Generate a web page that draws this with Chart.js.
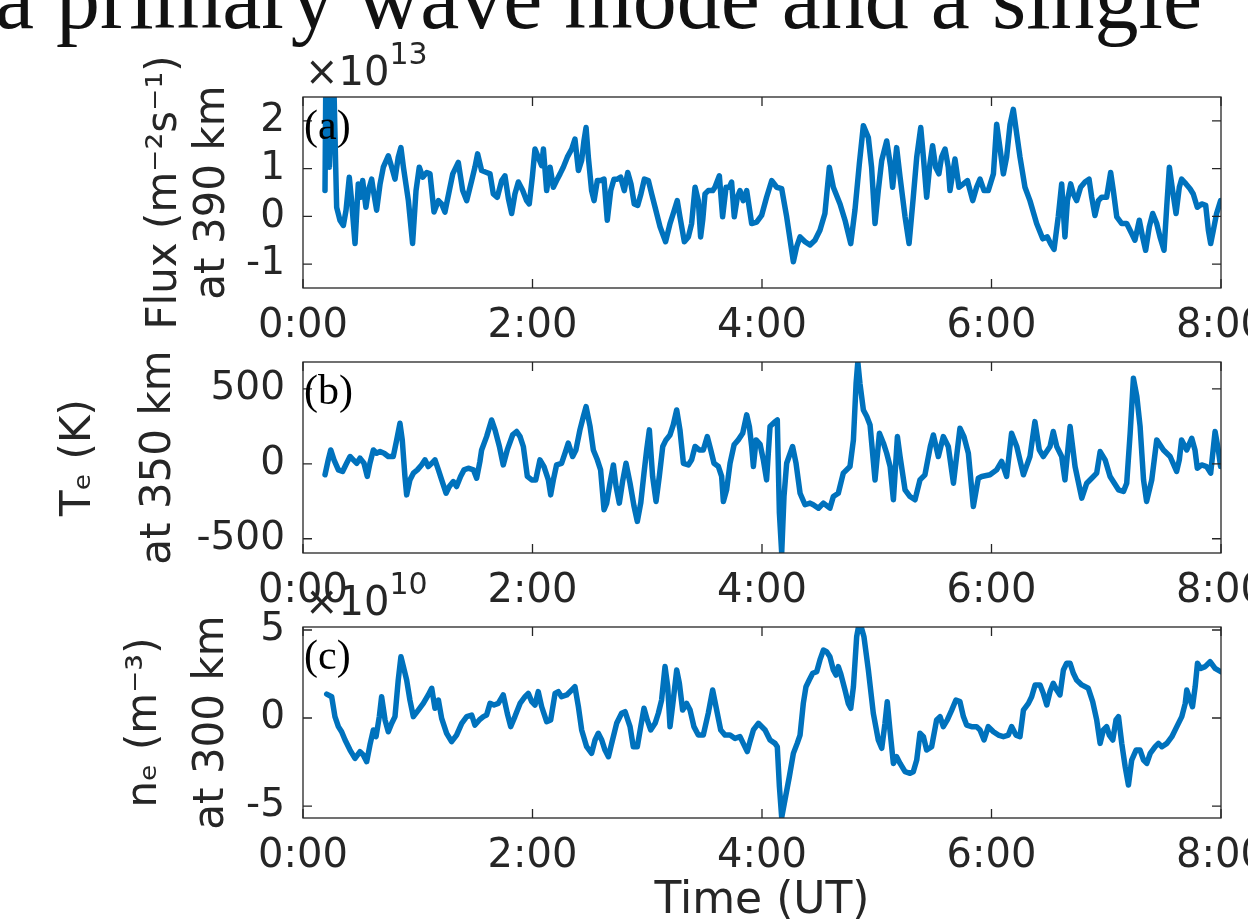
<!DOCTYPE html>
<html>
<head>
<meta charset="utf-8">
<script src="https://cdn.jsdelivr.net/npm/chart.js@4.4.1/dist/chart.umd.min.js"></script>
<style>
  html, body { margin: 0; padding: 0; background: #fff; }
  #page { position: relative; width: 1248px; height: 923px; overflow: hidden; background: #fff; }
  #page canvas { position: absolute; left: 0; top: 0; }
  #caption { position: absolute; left: -5px; top: -46px; font: 88px "Liberation Serif", serif; line-height: 90px; color: #111; white-space: nowrap; }
</style>
</head>
<body>
<div id="page">
  <div id="caption">a primary wave mode and a single</div>
  <canvas id="chartA" width="1248" height="923"></canvas>
  <canvas id="chartB" width="1248" height="923"></canvas>
  <canvas id="chartC" width="1248" height="923"></canvas>
</div>
<script>
// tick positions (time in minutes after 0:00 UT)
var timeTicks = [0, 120, 240, 360, 480];
var fluxTicks = [-1, 0, 1, 2];
var teTicks = [-500, 0, 500];
var neTicks = [-5, 0, 5];

// (a) flux at 390 km, units of 1e13 m-2 s-1
var fluxTime = [11.5,12.0,13.8,15.9,17.1,17.6,19.3,21.1,22.5,24.2,25.4,27.2,28.9,30.2,31.2,32.9,34.2,35.9,36.8,38.5,40.3,42.0,44.6,46.4,48.1,49.8,51.2,52.5,55.1,57.3,59.1,60.8,62.6,64.7,66.4,68.5,70.8,72.5,74.2,76.5,78.3,81.2,83.5,85.6,88.2,89.9,91.3,93.4,96.0,97.8,99.5,101.6,103.9,105.6,107.4,109.1,110.8,112.6,114.9,116.9,118.3,119.9,121.3,123.0,124.8,125.7,127.4,129.2,130.9,132.6,134.4,136.1,138.2,140.5,142.2,144.0,145.7,146.9,148.0,149.2,150.9,152.2,153.9,155.6,157.4,159.1,160.9,162.6,164.4,166.1,168.0,169.8,171.5,173.2,175.0,176.7,178.5,180.6,182.3,184.1,186.7,189.6,191.9,193.6,195.7,197.1,199.4,201.5,203.2,205.0,206.7,207.9,209.0,210.2,211.9,214.2,215.4,217.7,219.4,221.2,222.9,224.1,225.5,227.1,228.5,230.2,232.0,234.6,237.2,239.8,242.4,245.1,247.7,250.3,252.9,256.4,258.1,259.9,262.5,265.1,267.7,270.3,272.9,275.2,277.3,280.8,283.4,286.4,288.6,290.9,293.0,295.6,297.3,299.1,300.8,302.6,305.2,307.3,308.3,310.4,312.2,314.8,316.9,319.1,320.9,323.0,324.4,326.1,327.8,329.2,330.8,332.5,333.9,335.7,337.4,338.3,340.9,343.0,345.3,347.4,350.2,352.2,354.0,356.1,358.3,361.0,362.7,364.4,366.2,367.9,369.7,371.4,373.2,374.9,377.5,380.1,383.6,386.8,389.2,390.9,392.7,394.9,396.7,398.4,399.7,401.4,402.8,404.5,406.6,408.9,411.0,412.4,414.1,415.9,417.6,420.2,422.3,423.7,425.5,428.1,430.7,433.3,435.0,437.3,439.0,440.6,442.5,444.3,446.4,448.1,450.2,451.6,453.0,454.7,456.5,458.2,459.4,461.7,463.8,465.5,467.6,469.9,472.0,473.4,474.6,476.0,477.7,479.8];
var fluxVal = [0.54,3.2,1.03,3.2,1.03,0.19,-0.08,-0.19,0.13,0.82,0.33,-0.57,0.68,0.40,0.75,0.19,0.54,0.78,0.54,0.13,0.68,1.03,1.27,1.03,0.78,1.24,1.44,1.03,0.33,-0.57,0.54,1.03,0.82,0.92,0.89,0.09,0.33,0.26,0.09,0.54,0.89,1.13,0.54,0.33,0.75,1.03,1.31,0.96,0.92,0.89,0.47,0.40,0.75,0.85,0.37,0.06,0.47,0.72,0.54,0.33,0.26,0.82,1.41,1.24,1.06,1.41,0.54,1.03,0.61,0.75,0.89,1.03,1.24,1.41,1.62,0.96,1.17,1.58,1.86,1.24,0.54,0.33,0.75,0.75,0.78,-0.08,0.54,0.78,0.78,0.82,0.54,0.92,0.68,0.26,0.23,0.47,0.78,0.75,0.47,0.19,-0.22,-0.53,-0.15,0.06,0.33,-0.01,-0.53,-0.43,-0.15,0.61,0.33,-0.43,-0.08,0.47,0.54,0.54,0.61,0.85,-0.01,0.61,0.61,0.72,-0.01,0.40,0.54,0.33,0.54,-0.15,-0.12,0.02,0.40,0.75,0.61,0.58,-0.01,-0.95,-0.64,-0.43,-0.53,-0.60,-0.50,-0.29,0.06,1.03,0.61,0.26,-0.08,-0.57,0.13,1.10,1.90,1.65,1.03,-0.15,0.54,1.17,1.58,1.03,0.61,1.44,0.82,-0.01,-0.57,0.40,1.24,1.86,1.24,0.40,1.10,1.48,1.03,0.89,1.24,1.41,1.03,0.54,1.20,0.61,0.68,0.75,0.33,0.61,0.78,0.54,0.54,0.89,1.93,1.44,0.89,1.24,1.93,2.24,1.72,1.24,0.61,0.33,-0.15,-0.47,-0.43,-0.57,-0.69,-0.01,0.68,-0.43,0.33,0.68,0.47,0.33,0.61,0.72,0.78,0.40,0.02,0.33,0.40,0.40,0.92,0.54,-0.01,-0.15,-0.15,-0.36,-0.50,-0.08,-0.43,-0.71,-0.22,0.06,-0.15,-0.43,-0.71,0.19,1.03,0.54,0.06,0.61,0.78,0.68,0.58,0.47,0.19,0.26,0.23,-0.29,-0.57,-0.29,0.06,0.33];

// (b) electron temperature at 350 km, K
var teTime = [11.5,13.2,14.5,16.2,18.5,20.7,22.8,24.6,26.3,28.1,29.8,31.9,33.6,35.0,36.8,38.5,40.3,42.4,44.6,47.2,49.0,50.7,51.9,53.3,54.2,55.9,57.7,59.8,62.0,63.8,65.5,67.3,69.0,70.8,72.5,74.8,76.5,78.6,80.3,82.4,84.2,86.4,89.1,90.8,92.5,93.4,96.0,98.6,100.4,102.7,104.7,106.8,109.6,111.7,113.5,115.2,117.3,119.6,121.7,123.9,126.0,128.3,129.5,130.9,132.6,135.2,137.0,138.7,141.0,142.7,144.8,146.6,148.0,150.1,151.8,153.9,155.6,157.4,158.8,160.5,162.3,163.7,165.4,167.1,168.9,171.0,173.1,174.8,176.6,178.3,179.7,181.1,182.8,184.6,186.3,188.1,189.8,191.9,193.6,195.4,197.1,198.9,201.5,203.2,205.0,207.2,209.3,211.4,213.2,214.9,217.2,218.9,219.8,221.5,223.3,225.4,227.6,229.9,232.0,233.4,234.6,235.5,236.9,239.0,240.7,242.4,244.2,246.8,248.0,249.1,250.3,251.5,252.9,256.0,257.8,259.9,262.5,265.1,266.8,269.5,272.1,275.5,277.3,279.9,282.5,286.0,287.8,289.2,290.1,291.2,293.0,294.8,296.5,299.1,301.4,303.5,305.2,307.0,308.7,310.8,312.2,314.8,317.4,320.0,322.6,325.2,328.0,329.6,332.2,334.8,337.4,340.1,343.5,345.6,347.9,350.5,353.1,354.9,359.2,362.7,365.3,367.9,370.5,373.2,376.7,380.1,382.7,385.0,387.1,390.6,392.3,394.1,396.7,398.4,401.1,403.7,407.2,409.8,412.4,415.0,416.8,419.4,422.0,426.4,429.0,430.7,432.5,434.2,436.0,437.7,439.5,441.1,443.8,446.4,449.9,453.4,456.8,458.2,459.4,462.1,464.7,466.4,467.6,469.9,472.5,474.6,476.9,478.6,479.8];
var teVal = [-73,27,93,27,-40,-51,4,49,27,4,38,4,-84,4,93,71,82,71,49,49,160,271,160,-84,-207,-107,-62,-40,-7,27,-18,4,27,-40,-107,-196,-151,-118,-151,-84,-40,-29,-40,-96,16,93,182,293,227,116,-7,93,193,216,182,116,-84,-107,-107,27,-18,-107,-207,-107,-7,4,71,138,49,93,227,316,382,249,93,27,-40,-307,-262,-129,-7,-151,-262,-118,4,-129,-284,-384,-262,-62,93,227,-84,-251,-84,116,160,193,260,360,227,4,-7,27,116,93,93,182,93,4,-18,-84,-251,-173,4,127,160,204,327,249,116,-18,160,130,27,-107,249,282,293,-329,-595,-218,4,116,4,-196,-273,-262,-273,-296,-262,-296,-218,-196,-62,-18,160,538,680,538,360,316,260,-107,204,138,71,-18,-240,182,49,-173,-218,-240,-107,-73,116,193,49,182,116,-129,238,182,71,-284,-96,-84,-73,-40,16,-84,204,116,-73,49,282,93,49,116,216,116,49,-107,249,-18,-229,-129,-96,-62,82,27,-84,-173,-184,-129,204,571,449,249,-107,-251,-107,160,93,49,-51,27,160,93,171,93,-29,-7,-18,-62,216,93,-18];

// (c) electron density at 300 km, units of 1e10 m-3
var neTime = [12.4,15.0,16.7,18.5,20.2,22.0,24.6,27.2,29.8,31.5,33.3,35.0,36.8,38.2,39.9,41.1,42.9,44.6,46.4,48.1,49.8,51.2,52.5,54.2,55.9,57.7,60.3,62.9,65.5,67.3,69.0,70.8,72.5,75.1,77.7,80.3,83.0,85.6,88.2,89.9,92.2,94.3,96.0,97.8,99.9,102.1,104.7,106.8,108.6,110.8,113.5,116.1,117.8,119.6,121.3,123.0,124.8,127.4,129.5,131.8,133.5,135.2,137.9,140.5,142.2,144.0,145.7,148.3,150.9,152.7,154.4,156.2,157.9,159.7,161.4,164.0,166.6,168.4,171.0,172.7,174.8,176.6,178.3,180.0,181.8,184.1,185.8,187.5,189.3,190.7,191.9,193.6,195.4,196.8,198.5,200.6,202.4,204.4,206.7,209.3,211.9,214.2,216.3,218.4,220.7,223.3,225.9,228.5,230.2,232.3,233.7,235.5,238.1,241.6,244.2,246.8,248.0,249.1,250.3,252.0,254.3,256.4,258.4,259.9,261.6,263.0,264.7,266.5,268.6,270.3,272.1,273.8,275.5,277.3,278.7,279.9,281.1,283.4,285.1,286.4,287.8,289.5,290.4,292.1,293.3,295.6,298.2,300.8,302.6,304.3,305.5,306.9,308.7,310.4,312.2,314.8,317.4,319.1,320.9,322.6,324.4,326.1,328.7,331.3,333.1,334.8,336.9,339.2,341.4,343.5,345.3,347.0,349.6,352.2,354.0,356.1,358.3,361.0,363.6,366.2,368.8,370.5,372.8,374.9,376.7,379.3,381.0,382.8,385.4,387.1,388.9,390.6,392.3,394.1,395.8,397.6,399.3,401.1,402.8,404.5,407.2,410.6,412.9,415.0,416.8,418.5,420.2,421.6,423.4,425.1,426.4,428.1,429.9,431.6,433.3,435.6,437.7,439.5,441.2,443.0,445.6,447.3,449.1,451.7,454.3,456.9,459.5,461.3,462.1,463.9,465.1,466.5,467.7,469.4,471.7,474.3,476.9,479.9];
var neVal = [1.36,1.21,0.08,-0.49,-0.78,-1.25,-1.82,-2.29,-1.91,-2.10,-2.48,-1.53,-0.68,-1.06,0.08,1.21,-0.11,-0.78,-0.30,0.08,2.16,3.48,2.92,2.16,1.02,0.08,0.45,0.83,1.31,1.69,0.55,1.02,-0.02,-0.87,-1.34,-0.97,-0.30,0.08,0.17,-0.40,-0.11,0.08,0.17,0.83,0.74,0.83,1.31,0.27,-0.49,0.08,0.83,1.21,1.40,0.93,0.74,1.50,0.64,-0.21,-0.11,1.40,1.50,1.21,1.31,1.59,1.78,0.64,-0.68,-1.63,-2.01,-1.25,-0.87,-1.25,-1.82,-2.20,-1.44,-0.30,0.27,0.36,-0.49,-1.63,-1.63,-0.49,0.55,-0.11,-0.68,-0.30,0.27,1.02,2.92,1.78,-0.49,1.02,2.73,1.97,0.45,0.83,0.45,-0.49,-0.97,-0.97,0.27,1.59,0.45,-0.68,-0.97,-0.97,-1.16,-1.06,-1.44,-1.91,-1.34,-0.68,-0.30,-0.68,-1.25,-1.44,-1.63,-3.90,-5.65,-4.66,-3.33,-2.01,-1.44,-0.97,0.83,1.78,2.16,2.54,2.63,3.30,3.86,3.77,3.48,2.73,2.44,2.92,2.54,1.59,0.83,0.55,1.78,4.62,5.15,5.09,4.62,2.73,0.27,-1.25,-1.72,-0.30,0.93,-0.68,-2.58,-2.20,-2.58,-3.05,-3.14,-3.05,-2.39,-0.87,-1.06,-1.82,-1.63,-0.11,0.08,-0.49,-0.11,0.45,1.02,0.93,0.08,-0.40,-0.49,-0.49,-0.68,-1.25,-0.49,-0.78,-0.97,-1.06,-0.97,-0.49,-0.97,-1.06,0.45,0.83,1.21,1.88,1.88,1.40,0.74,1.50,1.97,1.59,1.31,2.73,3.11,3.11,2.54,2.16,1.88,1.69,0.93,-0.11,-1.44,-0.68,-0.49,-0.97,-1.25,-0.11,0.08,-1.44,-2.77,-3.81,-2.39,-1.82,-1.82,-2.39,-2.58,-2.01,-1.63,-1.44,-1.63,-1.44,-1.06,-0.49,0.08,0.83,1.59,1.02,0.64,1.78,3.11,2.82,2.92,3.20,2.82,2.63];

Chart.defaults.font.family = '"DejaVu Sans", sans-serif';
Chart.defaults.color = '#262626';

function hhmm(v) {
  var h = Math.floor(v / 60);
  var m = v % 60;
  return h + ':' + (m < 10 ? '0' : '') + m;
}

// matlab style box: frame, inward ticks on all sides, panel letter, exponent
var boxPlugin = {
  id: 'panelBox',
  afterDatasetsDraw: function (chart, args, opts) {
    var ctx = chart.ctx;
    var a = chart.chartArea;
    var xs = chart.scales.x, ys = chart.scales.y;
    var tl = 9;
    ctx.save();
    ctx.strokeStyle = '#262626';
    ctx.lineWidth = 1.3;
    ctx.strokeRect(a.left, a.top, a.right - a.left, a.bottom - a.top);
    ctx.beginPath();
    xs.ticks.forEach(function (t) {
      var px = xs.getPixelForValue(t.value);
      ctx.moveTo(px, a.bottom); ctx.lineTo(px, a.bottom - tl);
      ctx.moveTo(px, a.top); ctx.lineTo(px, a.top + tl);
    });
    ys.ticks.forEach(function (t) {
      var py = ys.getPixelForValue(t.value);
      ctx.moveTo(a.left, py); ctx.lineTo(a.left + tl, py);
      ctx.moveTo(a.right, py); ctx.lineTo(a.right - tl, py);
    });
    ctx.stroke();

    ctx.fillStyle = '#000';
    ctx.textBaseline = 'alphabetic';
    ctx.textAlign = 'left';
    ctx.font = '42px "Liberation Serif", serif';
    ctx.fillText(opts.letter, a.left + 1, a.top + 42);

    if (opts.exponent) {
      ctx.fillStyle = '#262626';
      ctx.font = '40px "DejaVu Sans", sans-serif';
      var base = '\u00d710';
      ctx.fillText(base, a.left + 2, a.top - 12);
      var w = ctx.measureText(base).width;
      ctx.font = '30px "DejaVu Sans", sans-serif';
      ctx.fillText(opts.exponent, a.left + 2 + w, a.top - 33);
    }
    ctx.restore();
  }
};

function makePanel(id, times, values, cfg) {
  var pts = times.map(function (t, i) { return { x: t, y: values[i] }; });
  return new Chart(document.getElementById(id), {
    type: 'line',
    data: {
      datasets: [{
        data: pts,
        borderColor: '#0072BD',
        borderWidth: 5.5,
        borderJoinStyle: 'round',
        borderCapStyle: 'round',
        pointRadius: 0,
        tension: 0,
        clip: 0
      }]
    },
    options: {
      responsive: false,
      animation: false,
      devicePixelRatio: 1,
      layout: { padding: { top: cfg.top, right: 27, left: 0, bottom: 0 } },
      plugins: {
        legend: { display: false },
        tooltip: { enabled: false },
        panelBox: { letter: cfg.letter, exponent: cfg.exponent }
      },
      scales: {
        x: {
          type: 'linear',
          min: 0,
          max: 480,
          grid: { display: false, drawTicks: false },
          border: { display: false },
          ticks: { padding: 15, maxRotation: 0, autoSkip: false, font: { size: 40 }, color: '#262626', callback: hhmm },
          title: {
            display: !!cfg.xTitle,
            text: cfg.xTitle || '',
            color: '#262626',
            font: { size: 44, lineHeight: 1 },
            padding: { top: 0, bottom: -1 }
          },
          afterBuildTicks: function (s) {
            s.ticks = timeTicks.map(function (v) { return { value: v }; });
          },
          afterFit: function (s) {
            s.height = 923 - cfg.bottom;
            s.paddingLeft = 0;
            s.paddingRight = 0;
          }
        },
        y: {
          min: cfg.yMin,
          max: cfg.yMax,
          grid: { display: false, drawTicks: false },
          border: { display: false },
          ticks: { padding: 18, font: { size: 39 }, color: '#262626', callback: function (v) { return String(v); } },
          title: {
            display: true,
            text: cfg.yTitle,
            color: '#262626',
            font: { size: 42, lineHeight: cfg.titleLine + 'px' },
            padding: { top: cfg.titlePad, bottom: 0 }
          },
          afterBuildTicks: function (s) {
            s.ticks = cfg.yTicks.map(function (v) { return { value: v }; });
          },
          afterFit: function (s) {
            s.width = 303;
            s.paddingTop = 0;
            s.paddingBottom = 0;
          }
        }
      }
    },
    plugins: [boxPlugin]
  });
}

makePanel('chartA', fluxTime, fluxVal, {
  top: 97, bottom: 288, yMin: -1.5, yMax: 2.5, yTicks: fluxTicks,
  yTitle: ['Flux (m\u207b\u00b2s\u207b\u00b9)', 'at 390 km'], titleLine: 48, titlePad: 141,
  letter: '(a)', exponent: '13'
});
makePanel('chartB', teTime, teVal, {
  top: 362, bottom: 553, yMin: -595, yMax: 680, yTicks: teTicks,
  yTitle: ['T\u2091 (K)', 'at 350 km'], titleLine: 80, titlePad: 39,
  letter: '(b)'
});
makePanel('chartC', neTime, neVal, {
  top: 627, bottom: 818, yMin: -5.68, yMax: 5.17, yTicks: neTicks,
  yTitle: ['n\u2091 (m\u207b\u00b3)', 'at 300 km'], titleLine: 67, titlePad: 112,
  letter: '(c)', exponent: '10', xTitle: 'Time (UT)'
});
</script>
</body>
</html>
